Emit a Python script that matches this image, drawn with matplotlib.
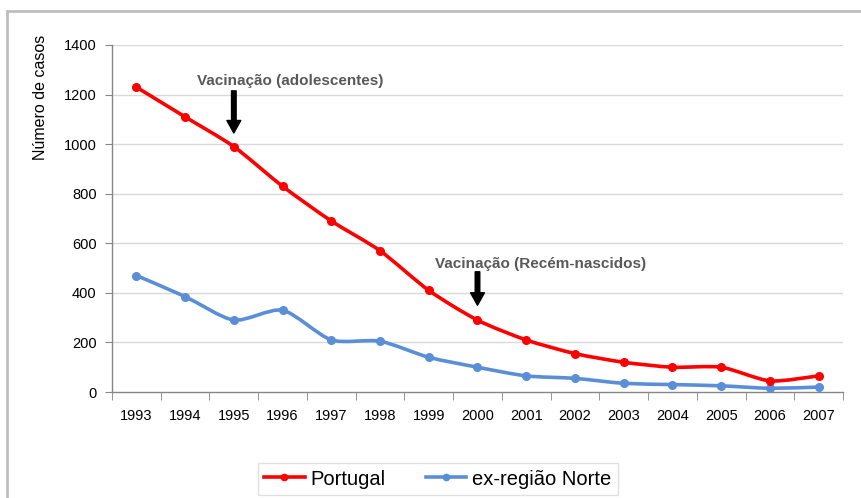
import matplotlib.pyplot as plt
import numpy as np
from matplotlib.path import Path
from matplotlib.patches import PathPatch, Rectangle
from matplotlib.lines import Line2D

plt.rcParams['font.family'] = ['Liberation Sans', 'DejaVu Sans']

anos = ['1993', '1994', '1995', '1996', '1997', '1998', '1999', '2000',
        '2001', '2002', '2003', '2004', '2005', '2006', '2007']
portugal = [1230, 1110, 990, 830, 690, 570, 410, 290, 210, 155, 120, 100, 100, 45, 65]
norte = [470, 385, 290, 330, 210, 205, 140, 100, 65, 55, 35, 30, 25, 15, 20]

COR_PT = '#FF0000'
COR_NORTE = '#5A8FD8'


def smooth_line(ax, x, y, color, lw):
    # bezier segments through the points, like the smoothed lines of a spreadsheet
    pts = np.column_stack([x, y]).astype(float)
    ext = np.vstack([pts[0], pts, pts[-1]])
    verts = [pts[0]]
    codes = [Path.MOVETO]
    for i in range(len(pts) - 1):
        p0, p1, p2, p3 = ext[i], ext[i + 1], ext[i + 2], ext[i + 3]
        c1 = p1 + (p2 - p0) / 8.0
        c2 = p2 - (p3 - p1) / 8.0
        verts += [c1, c2, p2]
        codes += [Path.CURVE4] * 3
    patch = PathPatch(Path(verts, codes), facecolor='none', edgecolor=color,
                      lw=lw, capstyle='round', joinstyle='round', zorder=3)
    ax.add_patch(patch)
    ax.plot(x, y, 'o', color=color, ms=5.5, zorder=4)


fig = plt.figure(figsize=(8.62, 4.98), dpi=100)
ax = fig.add_axes([112 / 862, 1 - 392 / 498, (843 - 112) / 862, (392 - 45) / 498])

x = np.arange(len(anos))
smooth_line(ax, x, norte, COR_NORTE, 2.6)
smooth_line(ax, x, portugal, COR_PT, 2.6)

ax.set_xlim(-0.5, len(anos) - 0.5)
ax.set_ylim(0, 1400)
ax.set_yticks(np.arange(0, 1401, 200))
ax.set_xticks(x)
ax.set_xticklabels(anos)
ax.set_xticks(np.arange(-0.5, len(anos), 1), minor=True)
ax.tick_params(axis='x', which='major', length=0, pad=12, labelsize=10.5)
ax.tick_params(axis='x', which='minor', length=6, color='#868686', direction='out')
ax.tick_params(axis='y', length=5, color='#868686', labelsize=10.5, pad=6)

for v in range(200, 1401, 200):
    ax.axhline(v, color='#D9D9D9', lw=1, zorder=1)

for s in ['top', 'right']:
    ax.spines[s].set_visible(False)
for s in ['left', 'bottom']:
    ax.spines[s].set_color('#868686')
    ax.spines[s].set_linewidth(1)

ax.set_ylabel('Número de casos', fontsize=11.5)
ax.yaxis.set_label_coords(-0.088, 0.85)

# marcos da vacinação
seta = dict(arrowstyle='simple,head_width=1.0,head_length=0.9,tail_width=0.33',
            color='black', shrinkA=0, shrinkB=0)
ax.annotate('', xy=(2, 1045), xytext=(2, 1215), arrowprops=seta)
ax.text(3.15, 1255, 'Vacinação (adolescentes)', fontsize=11, fontweight='bold',
        color='#595959', ha='center', va='center')

ax.annotate('', xy=(7, 350), xytext=(7, 485), arrowprops=seta)
ax.text(8.3, 518, 'Vacinação (Recém-nascidos)', fontsize=11, fontweight='bold',
        color='#595959', ha='center', va='center')

handles = [Line2D([], [], color=COR_PT, lw=2.6, marker='o', ms=4.5),
           Line2D([], [], color=COR_NORTE, lw=2.6, marker='o', ms=4.5)]
leg = fig.legend(handles, ['Portugal', 'ex-região Norte'], ncol=2,
                 loc='center', bbox_to_anchor=(438 / 862, 1 - 479 / 498),
                 fontsize=14.5, frameon=True, fancybox=False, edgecolor='#D9D9D9',
                 handlelength=2.0, handletextpad=0.3, columnspacing=2.0,
                 borderpad=0.3)
leg.get_frame().set_linewidth(1)

# moldura da área do gráfico
fig.patches.append(Rectangle((7 / 862, -0.1), 2, 1 - 11 / 498 + 0.1,
                             transform=fig.transFigure, fill=False,
                             edgecolor='#BEBEBE', lw=2, clip_on=False))

fig.savefig('out.png', dpi=100)
